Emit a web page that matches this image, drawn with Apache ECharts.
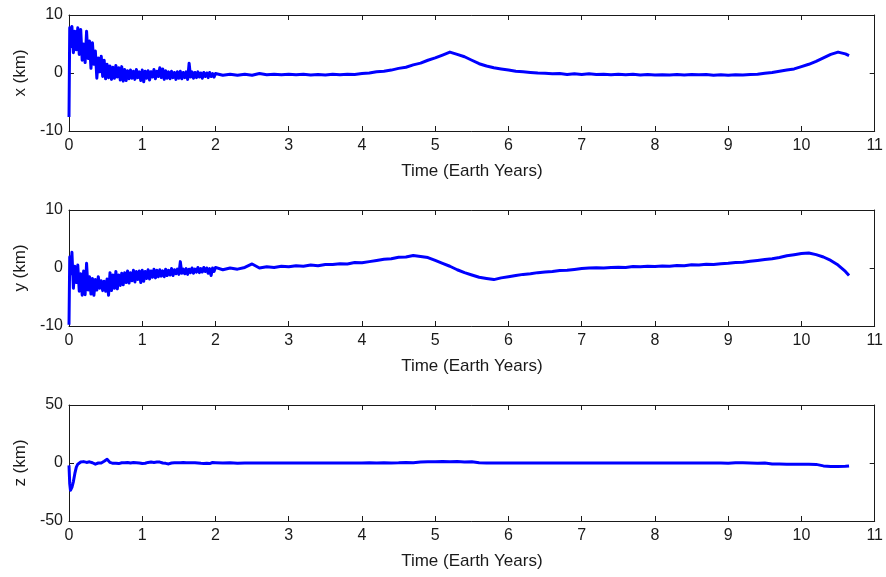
<!DOCTYPE html>
<html>
<head>
<meta charset="utf-8">
<script src="https://cdn.jsdelivr.net/npm/echarts@6/dist/echarts.min.js"></script>
<style>
  html, body { margin: 0; padding: 0; background: #fff; }
  #chart { width: 886px; height: 577px; }
</style>
</head>
<body>
<div id="chart"></div>
<script>
// Sample times (Earth years): dense over the first two years, coarser afterwards.
const time = [
  0, 0.01,
  0.02, 0.04, 0.06, 0.08, 0.10, 0.12, 0.14, 0.16, 0.18, 0.20,
  0.22, 0.24, 0.26, 0.28, 0.30, 0.32, 0.34, 0.36, 0.38, 0.40,
  0.42, 0.44, 0.46, 0.48, 0.50, 0.52, 0.54, 0.56, 0.58, 0.60,
  0.62, 0.64, 0.66, 0.68, 0.70, 0.72, 0.74, 0.76, 0.78, 0.80,
  0.82, 0.84, 0.86, 0.88, 0.90, 0.92, 0.94, 0.96, 0.98, 1.00,
  1.02, 1.04, 1.06, 1.08, 1.10, 1.12, 1.14, 1.16, 1.18, 1.20,
  1.22, 1.24, 1.26, 1.28, 1.30, 1.32, 1.34, 1.36, 1.38, 1.40,
  1.42, 1.44, 1.46, 1.48, 1.50, 1.52, 1.54, 1.56, 1.58, 1.60,
  1.62, 1.64, 1.66, 1.68, 1.70, 1.72, 1.74, 1.76, 1.78, 1.80,
  1.82, 1.84, 1.86, 1.88, 1.90, 1.92, 1.94, 1.96, 1.98, 2.00,
  2.1, 2.2, 2.3, 2.4, 2.5, 2.6, 2.7, 2.8, 2.9,
  3.0, 3.1, 3.2, 3.3, 3.4, 3.5, 3.6, 3.7, 3.8, 3.9,
  4.0, 4.1, 4.2, 4.3, 4.4, 4.5, 4.6, 4.7, 4.8, 4.9,
  5.0, 5.1, 5.2, 5.3, 5.4, 5.5, 5.6, 5.7, 5.8, 5.9,
  6.0, 6.1, 6.2, 6.3, 6.4, 6.5, 6.6, 6.7, 6.8, 6.9,
  7.0, 7.1, 7.2, 7.3, 7.4, 7.5, 7.6, 7.7, 7.8, 7.9,
  8.0, 8.1, 8.2, 8.3, 8.4, 8.5, 8.6, 8.7, 8.8, 8.9,
  9.0, 9.1, 9.2, 9.3, 9.4, 9.5, 9.6, 9.7, 9.8, 9.9,
  10.0, 10.1, 10.2, 10.3, 10.4, 10.5, 10.6, 10.65
];

// x position error (km)
const xErr = [
  -7.6, 7.8,
  4.5, 8.0, 3.5, 7.2, 4.0, 7.8, 3.2, 7.5, 2.2, 5.0,
  1.8, 7.2, 2.5, 5.5, 0.8, 5.2, 1.5, 3.8, -0.9, 2.6,
  0.2, 2.9, -0.6, 2.2, -1.0, 1.5, -0.8, 1.2, -1.1, 1.0,
  -0.9, 1.3, -0.7, 0.9, -1.2, 1.1, -1.4, 0.6, -1.3, 0.4,
  -1.0, 0.5, -0.9, 0.3, -1.1, 0.6, -0.8, 0.2, -1.3, 0.5,
  -1.5, 0.3, -0.9, 0.4, -1.2, 0.2, -0.7, 0.6, -1.0, 0.3,
  -0.6, 0.9, -0.8, 0.7, -1.1, 0.4, -0.9, 0.2, -1.0, 0.3,
  -0.8, 0.1, -1.1, 0.2, -0.9, 0.3, -1.0, 0.1, -0.8, 0.2,
  -1.1, 1.7, -0.7, 0.2, -0.9, 0.1, -0.8, 0.2, -0.7, 0.0,
  -0.9, 0.1, -0.6, 0.0, -0.8, 0.1, -0.6, -0.1, -0.7, -0.1,
  -0.4, -0.2, -0.4, -0.2, -0.4, -0.1, -0.3, -0.2, -0.3,
  -0.2, -0.3, -0.2, -0.35, -0.25, -0.35, -0.2, -0.3, -0.2, -0.25,
  -0.1, 0.0, 0.2, 0.3, 0.5, 0.8, 1.0, 1.4, 1.7, 2.2,
  2.6, 3.1, 3.6, 3.2, 2.8, 2.2, 1.6, 1.2, 0.9, 0.7,
  0.5, 0.3, 0.2, 0.1, 0.0, -0.05, -0.15, -0.1, -0.25, -0.15,
  -0.25, -0.15, -0.25, -0.2, -0.3, -0.2, -0.3, -0.2, -0.35, -0.25,
  -0.35, -0.3, -0.35, -0.25, -0.35, -0.25, -0.3, -0.25, -0.4, -0.3,
  -0.4, -0.3, -0.35, -0.25, -0.2, -0.05, 0.1, 0.3, 0.5, 0.7,
  1.1, 1.5, 2.0, 2.6, 3.2, 3.6, 3.3, 3.0
];

// y position error (km)
const yErr = [
  -9.8, 1.9,
  -1.0, 2.7, -3.5, 0.3, -2.5, 0.5, -4.0, -1.0, -4.7, -0.5,
  -4.6, 0.8, -3.8, -1.5, -4.5, -1.8, -4.7, -2.0, -3.8, -1.5,
  -3.5, -2.2, -3.9, -2.3, -4.0, -1.9, -4.7, -0.8, -3.9, -1.2,
  -3.5, -0.6, -3.6, -1.2, -3.0, -0.9, -2.9, -0.8, -2.5, -0.5,
  -2.6, -0.8, -2.2, -0.4, -2.4, -0.6, -2.0, -0.5, -2.5, -0.4,
  -2.3, -0.6, -1.8, -0.3, -1.9, -0.5, -1.6, -0.2, -1.7, -0.4,
  -1.5, -0.3, -1.4, -0.5, -1.5, -0.2, -1.3, -0.4, -1.2, -0.1,
  -1.3, -0.3, -1.0, -0.2, -1.1, 1.1, -0.9, -0.2, -1.0, -0.1,
  -1.1, -0.2, -0.8, 0.0, -0.9, -0.2, -0.7, 0.1, -0.8, -0.1,
  -0.7, 0.1, -0.6, 0.0, -0.9, -0.1, -1.3, 0.0, -0.6, 0.1,
  -0.3, 0.0, -0.2, 0.1, 0.7, 0.0, 0.2, 0.1, 0.3,
  0.2, 0.4, 0.3, 0.5, 0.4, 0.6, 0.6, 0.75, 0.7, 0.95,
  0.9, 1.1, 1.3, 1.5, 1.6, 1.85, 1.9, 2.15, 2.0, 1.8,
  1.3, 0.8, 0.3, -0.3, -0.8, -1.2, -1.6, -1.8, -2.0, -1.7,
  -1.5, -1.3, -1.1, -1.0, -0.8, -0.7, -0.6, -0.45, -0.4, -0.25,
  -0.1, 0.0, 0.05, 0.0, 0.1, 0.15, 0.1, 0.25, 0.2, 0.3,
  0.25, 0.35, 0.3, 0.45, 0.4, 0.55, 0.5, 0.65, 0.6, 0.75,
  0.8, 0.95, 1.0, 1.15, 1.3, 1.45, 1.6, 1.8, 2.1, 2.3,
  2.5, 2.6, 2.3, 1.9, 1.3, 0.5, -0.6, -1.3
];

// z position error (km)
const zErr = [
  -2.0, -18.0,
  -23.5, -21.0, -16.0, -9.0, -3.5, -1.0, -0.5, 0.8, -0.3, 1.2,
  0.2, 0.5, 0.3, 1.0, 0.5, 0.2, -0.5, -1.0, -0.6, 0.0,
  0.3, 0.0, 0.8, 1.5, 2.5, 3.2, 2.5, 0.5, -0.8, -0.3,
  -0.5, -0.3, 0.0, -0.5, 0.8, 0.2, 1.0, 0.3, 1.2, 0.5,
  1.0, 0.0, -0.3, 0.4, 0.8, 0.2, 1.2, 0.0, 0.3, -0.5,
  -0.8, -0.2, 0.0, 0.5, 0.3, 0.8, 0.2, 0.5, 0.0, 0.8,
  1.2, 0.8, 0.3, 0.0, -0.5, -0.3, 0.0, -0.8, -0.3, 0.0,
  -0.3, 0.2, 0.0, 0.3, 0.0, 0.2, 0.0, 0.5, 0.8, 0.2,
  0.8, 0.3, 0.9, 0.2, 0.8, 0.3, 0.8, 0.0, 0.2, -0.3,
  0.0, -0.4, 0.0, -0.3, 0.0, -0.5, 0.0, 0.4, 0.0, 0.3,
  0.0, 0.2, -0.2, 0.0, 0.1, -0.1, 0.0, 0.1, 0.0,
  0.0, 0.1, -0.1, 0.0, 0.0, 0.1, 0.0, -0.1, 0.0, 0.0,
  0.0, 0.2, 0.1, 0.2, 0.1, 0.2, 0.5, 0.3, 0.8, 1.0,
  1.0, 1.2, 1.0, 1.2, 0.8, 1.0, 0.2, 0.0, 0.0, 0.0,
  0.0, 0.0, 0.0, 0.0, 0.0, 0.0, 0.0, 0.0, 0.0, 0.0,
  0.0, 0.0, 0.0, 0.0, 0.0, 0.0, 0.0, 0.0, 0.0, 0.0,
  0.0, 0.0, 0.0, 0.0, 0.0, 0.0, 0.0, 0.0, 0.0, 0.0,
  -0.2, 0.3, 0.2, 0.0, -0.3, 0.0, -0.8, -0.8, -1.0, -1.0,
  -1.0, -1.0, -1.2, -2.5, -3.0, -3.0, -2.8, -2.5
];

// Panel settings: y label, y range and tick step
const panelNames = ['x (km)', 'y (km)', 'z (km)'];
const panelRanges = [[-10, 10, 10], [-10, 10, 10], [-50, 50, 50]];
const panelSeries = [xErr, yErr, zErr];
const timeLabel = 'Time (Earth Years)';
const timeRange = [0, 11, 1];

const FONT = '"Liberation Sans", Arial, sans-serif';
const INK = '#1a1a1a';
const gridTops = [15, 210, 405];
const gridHeight = 116;

const grids = [], xAxes = [], yAxes = [], series = [];
panelSeries.forEach((vals, i) => {
  grids.push({ left: 69, right: 11, top: gridTops[i], height: gridHeight, containLabel: false });
  const tickStyle = { show: true, inside: true, length: 5, lineStyle: { color: INK, width: 1 } };
  const lineStyle = { show: true, onZero: false, lineStyle: { color: INK, width: 1 } };
  // bottom time axis with labels
  xAxes.push({
    type: 'value', gridIndex: i, position: 'bottom',
    min: timeRange[0], max: timeRange[1], interval: timeRange[2],
    axisLine: lineStyle, axisTick: tickStyle,
    axisLabel: { color: INK, fontFamily: FONT, fontSize: 16, margin: 7 },
    splitLine: { show: false },
    name: timeLabel, nameLocation: 'middle', nameGap: 32,
    nameTextStyle: { color: INK, fontFamily: FONT, fontSize: 17 }
  });
  // top frame axis (ticks only)
  xAxes.push({
    type: 'value', gridIndex: i, position: 'top',
    min: timeRange[0], max: timeRange[1], interval: timeRange[2],
    axisLine: lineStyle, axisTick: tickStyle,
    axisLabel: { show: false }, splitLine: { show: false }
  });
  const r = panelRanges[i];
  yAxes.push({
    type: 'value', gridIndex: i, position: 'left',
    min: r[0], max: r[1], interval: r[2],
    axisLine: lineStyle, axisTick: tickStyle,
    axisLabel: { color: INK, fontFamily: FONT, fontSize: 16, margin: 6 },
    splitLine: { show: false },
    name: panelNames[i], nameLocation: 'middle', nameGap: 40, nameRotate: 90,
    nameTextStyle: { color: INK, fontFamily: FONT, fontSize: 17 }
  });
  yAxes.push({
    type: 'value', gridIndex: i, position: 'right',
    min: r[0], max: r[1], interval: r[2],
    axisLine: lineStyle, axisTick: tickStyle,
    axisLabel: { show: false }, splitLine: { show: false }
  });
  series.push({
    type: 'line',
    xAxisIndex: i * 2, yAxisIndex: i * 2,
    data: time.map((t, k) => [t, vals[k]]),
    showSymbol: false, symbol: 'none',
    lineStyle: { color: '#0000ff', width: 3, join: 'round' },
    clip: true, z: 1
  });
});

const chart = echarts.init(document.getElementById('chart'), null, { renderer: 'canvas' });
chart.setOption({
  backgroundColor: '#ffffff',
  animation: false,
  grid: grids,
  xAxis: xAxes,
  yAxis: yAxes,
  series: series
});
</script>
</body>
</html>
